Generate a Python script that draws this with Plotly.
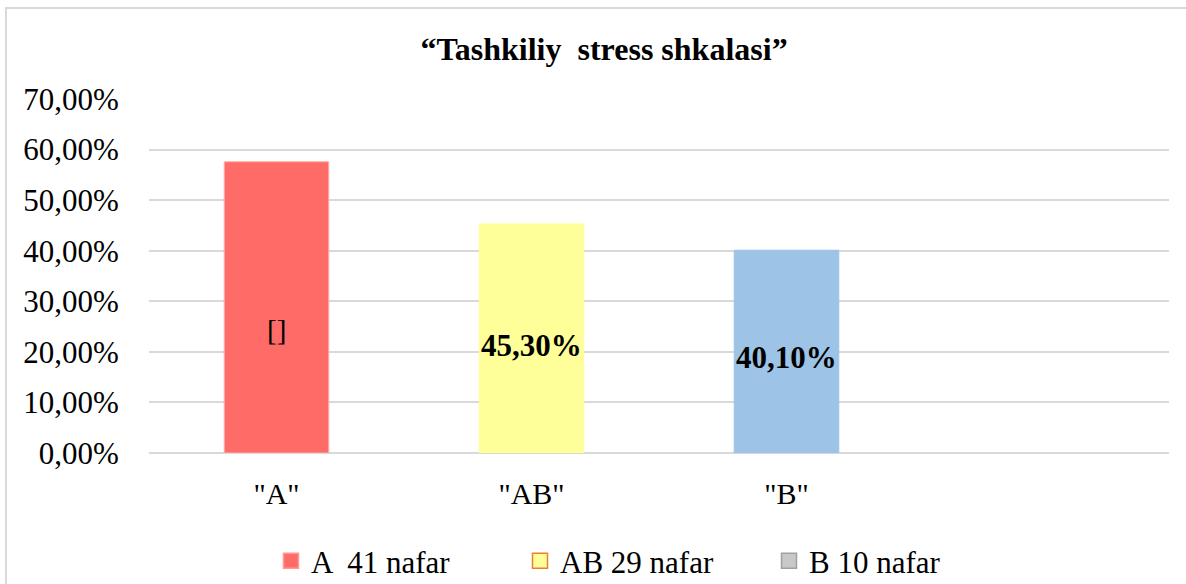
import plotly.graph_objects as go

categories = ['"A"', '"AB"', '"B"', ' ']
values = [0.576, 0.453, 0.401]
bar_labels = ["[]", "<b>45,30%</b>", "<b>40,10%</b>"]
label_shift = [-23, -7, -6]
label_size = [29, 31, 31]
bar_colors = ["#FF6B67", "#FFFF99", "#9DC3E6"]
bar_edge = ["#FFB0AD", "#FFFF99", "#9DC3E6"]

legend_names = ["A  41 nafar", "AB 29 nafar", "B 10 nafar"]
legend_fill = ["#FF6B67", "#FFFF99", "#C8C8C8"]
legend_line = ["#FF9A96", "#ED7D31", "#A0A0A0"]

y_ticks = [0, 0.1, 0.2, 0.3, 0.4, 0.5, 0.6, 0.7]
title_text = "<b>“Tashkiliy  stress shkalasi”</b>"

W, H = 1186, 584
ml, mr, mt, mb = 149, 17, 99, 131
serif = "Liberation Serif"

fig = go.Figure()
fig.add_trace(go.Bar(
    x=categories[:3], y=values,
    marker=dict(color=bar_colors, line=dict(color=bar_edge, width=1)),
    width=0.41, showlegend=False, hoverinfo="skip",
))
for name, fc, lc in zip(legend_names, legend_fill, legend_line):
    fig.add_trace(go.Scatter(
        x=[None], y=[None], name=name, mode="markers",
        marker=dict(symbol="square", size=15, color=fc, line=dict(color=lc, width=1.5)),
        showlegend=True,
    ))

for cat, v, lab, sh, sz in zip(categories, values, bar_labels, label_shift, label_size):
    fig.add_annotation(x=cat, y=v / 2, text=lab, showarrow=False, yshift=sh,
                       font=dict(family=serif, size=sz, color="black"))

pw = W - ml - mr
ph = H - mt - mb
fig.add_shape(type="path", xref="paper", yref="paper",
              path=f"M {(6-ml)/pw} {-(H)/ph} L {(6-ml)/pw} {(H-8-mb)/ph} L {(W+5-ml)/pw} {(H-8-mb)/ph}",
              line=dict(color="#D9D9D9", width=2), layer="below")

fig.update_layout(
    width=W, height=H,
    margin=dict(l=ml, r=mr, t=mt, b=mb, autoexpand=False),
    paper_bgcolor="white", plot_bgcolor="white",
    font=dict(family=serif, color="black"),
    separators=",.",
    title=dict(text=title_text, x=604 / W, xanchor="center", y=1 - 49 / H, yanchor="middle",
               font=dict(family=serif, size=32, color="black")),
    xaxis=dict(categoryorder="array", categoryarray=categories, range=[-0.5, 3.5],
               tickfont=dict(family=serif, size=30, color="black"),
               showgrid=False, showline=False, ticks="outside", ticklen=14,
               tickcolor="rgba(0,0,0,0)", fixedrange=True),
    yaxis=dict(range=[0, 0.7], tickvals=y_ticks, tickformat=".2%",
               tickfont=dict(family=serif, size=31, color="black"),
               showgrid=True, gridcolor="#D9D9D9", gridwidth=1.5,
               zeroline=True, zerolinecolor="#D9D9D9", zerolinewidth=1.5,
               showline=False, ticks="outside", ticklen=23, tickcolor="rgba(0,0,0,0)"),
    legend=dict(orientation="h", xref="paper", x=(285 - 14 - ml) / pw, xanchor="left",
                yref="container", y=1 - 561 / H, yanchor="middle",
                font=dict(family=serif, size=31, color="black"),
                entrywidth=204, itemwidth=30, itemsizing="trace", traceorder="normal"),
)

fig.write_html("out.html", config={"displayModeBar": False},
               post_script="document.body.style.margin='0';")
